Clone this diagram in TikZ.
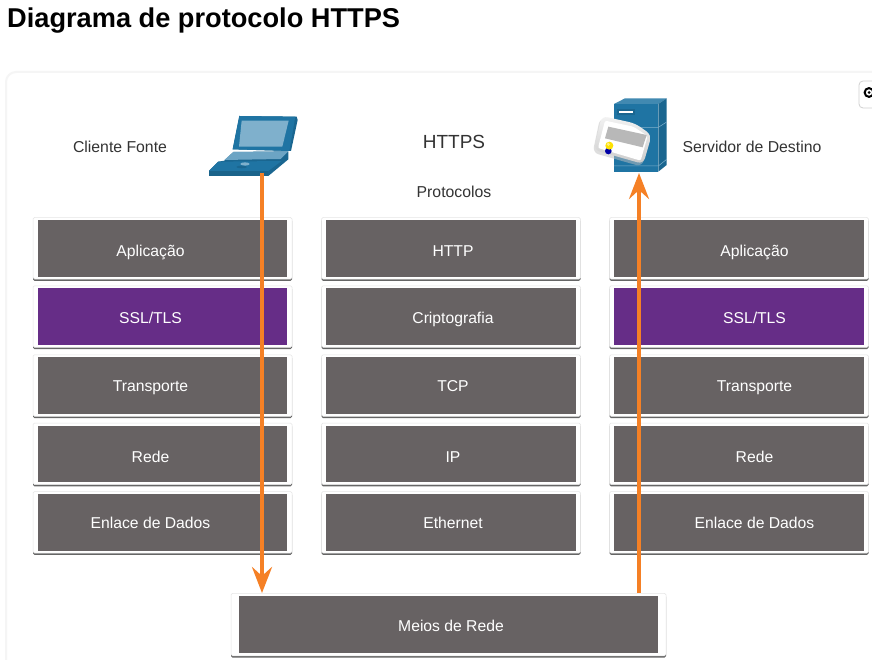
\documentclass[tikz,border=0pt]{standalone}
\usepackage{fontspec}
\setmainfont{Liberation Sans}
\usetikzlibrary{arrows.meta,shadows}
\definecolor{layergray}{HTML}{676263}
\definecolor{layerpurple}{HTML}{662D87}
\definecolor{floworange}{HTML}{F58025}
\definecolor{ciscoblue}{HTML}{1F74A3}
\definecolor{ciscodark}{HTML}{1A6690}
\definecolor{ciscolight}{HTML}{7FB0CC}
\definecolor{labeltext}{HTML}{333333}
\newcommand{\shifttext}[2]{\hspace*{#1}#2}
\tikzset{
  card/.style={fill=white,draw=black!10,line width=.5pt,rounded corners=1.5pt,inner sep=0pt,text=white,font=\fontsize{15.7}{18}\selectfont,text depth=0pt,
    drop shadow={shadow xshift=0pt,shadow yshift=-1.8pt,opacity=.7,fill=black!85}},
  layerbox/.style={card,minimum width=259pt,minimum height=61.5pt,
    path picture={\fill[#1,sharp corners] ([shift={(4.7pt,2.5pt)}]path picture bounding box.south west)
      rectangle ([shift={(-4.7pt,-2.5pt)}]path picture bounding box.north east);}},
  layerbox/.default=layergray,
  securebox/.style={layerbox=layerpurple},
  mediabox/.style={card,minimum width=435pt,minimum height=62.5pt,
    path picture={\fill[layergray,sharp corners] ([shift={(8.3pt,2.3pt)}]path picture bounding box.south west)
      rectangle ([shift={(-8.3pt,-2.7pt)}]path picture bounding box.north east);}},
  rowApp/.style={text height=16.5pt},
  rowSec/.style={text height=14pt},
  rowTra/.style={text height=12pt},
  rowNet/.style={text height=17pt},
  rowLnk/.style={text height=12pt},
  caption/.style={text=labeltext,inner sep=0pt,font=\fontsize{15.8}{18}\selectfont},
  flow/.style={draw=floworange,line width=4pt},
  flowtip/.style={-{Stealth[length=26pt,width=20pt,inset=9pt]}},
}
\begin{document}
\begin{tikzpicture}[x=1pt,y=-1pt]
  \clip[use as bounding box] (0,0) rectangle (872,660);
  \fill[white] (0,0) rectangle (872,660);
  \node[inner sep=0pt,anchor=west,font=\fontsize{27.2}{30}\selectfont\bfseries] (title) at (7,20.5) {Diagrama de protocolo HTTPS};
  % panel and button
  \draw[black!4,line width=2pt,rounded corners=10pt] (880,72) -- (6,72) -- (6,670);
  \draw[black!18,line width=.8pt,rounded corners=4pt] (880,81) -- (859,81) -- (859,108) -- (880,108);
  \draw[black,line width=2pt] (869,92.5) circle (4.4);
  \fill[black] (869,92.5) circle (1.5);
  % captions
  \node[caption] (client)   at (120,147) {Cliente Fonte};
  \node[caption,font=\fontsize{19}{24}\selectfont] (https) at (454,142) {HTTPS};
  \node[caption] (protocols) at (454,192) {Protocolos};
  \node[caption] (server)   at (752,147) {Servidor de Destino};
  % client column
  \node[layerbox,rowApp]  (cApp)  at (162.5,248.25) {\shifttext{-24pt}{Aplicação}};
  \node[securebox,rowSec] (cSec)  at (162.5,316.5)  {\shifttext{-24pt}{SSL/TLS}};
  \node[layerbox,rowTra]  (cTra)  at (162.5,385.5)  {\shifttext{-24pt}{Transporte}};
  \node[layerbox,rowNet]  (cNet)  at (162.5,453.75) {\shifttext{-24pt}{Rede}};
  \node[layerbox,rowLnk]  (cLnk)  at (162.5,522.25) {\shifttext{-24pt}{Enlace de Dados}};
  % protocol column
  \node[layerbox,rowApp]  (pApp)  at (451,248.25) {\shifttext{4pt}{HTTP}};
  \node[layerbox,rowSec]  (pSec)  at (451,316.5)  {\shifttext{4pt}{Criptografia}};
  \node[layerbox,rowTra]  (pTra)  at (451,385.5)  {\shifttext{4pt}{TCP}};
  \node[layerbox,rowNet]  (pNet)  at (451,453.75) {\shifttext{4pt}{IP}};
  \node[layerbox,rowLnk]  (pLnk)  at (451,522.25) {\shifttext{4pt}{Ethernet}};
  % server column
  \node[layerbox,rowApp]  (sApp)  at (739,248.25) {\shifttext{31pt}{Aplicação}};
  \node[securebox,rowSec] (sSec)  at (739,316.5)  {\shifttext{31pt}{SSL/TLS}};
  \node[layerbox,rowTra]  (sTra)  at (739,385.5)  {\shifttext{31pt}{Transporte}};
  \node[layerbox,rowNet]  (sNet)  at (739,453.75) {\shifttext{31pt}{Rede}};
  \node[layerbox,rowLnk]  (sLnk)  at (739,522.25) {\shifttext{31pt}{Enlace de Dados}};
  % media
  \node[mediabox,text height=14pt] (media) at (448.5,624.5) {\shifttext{5pt}{Meios de Rede}};
  % laptop
  \begin{scope}[shift={(190,90)},x=.3333pt,y=-.3333pt]
    \fill[ciscodark] (148,78) -- (320,80) -- (323,90) -- (303,183) -- (128,178) -- cycle;
    \fill[ciscoblue] (148,78) -- (316,80) -- (298,183) -- (128,178) -- cycle;
    \fill[ciscolight] (155,92) -- (296,92) -- (277,170) -- (147,170) -- cycle;
    \fill[ciscodark] (57,258) -- (235,258) -- (295,208) -- (295,184) -- (130,186) -- (103,212) -- (85,215) -- (57,243) -- cycle;
    \fill[ciscoblue] (57,243) -- (85,215) -- (275,213) -- (235,243) -- cycle;
    \fill[ciscoblue!85!black] (57,243) -- (235,243) -- (235,258) -- (57,258) -- cycle;
    \fill[ciscolight!80!ciscoblue] (130,186) -- (295,184) -- (272,207) -- (103,210) -- cycle;
    \fill[ciscolight] (165,222) ellipse (14 and 5);
    \fill[ciscodark] (155,231) ellipse (16 and 4);
  \end{scope}
  % server
  \begin{scope}[shift={(590,90)},x=.3333pt,y=-.3333pt]
    \fill[ciscoblue] (72,42) -- (205,42) -- (205,245) -- (72,245) -- cycle;
    \fill[ciscoblue!85!white] (72,42) -- (105,25) -- (230,25) -- (205,42) -- cycle;
    \fill[ciscodark] (205,42) -- (230,25) -- (230,225) -- (205,245) -- cycle;
    \draw[ciscolight,line width=.5pt] (72,112) -- (205,112) -- (230,96);
    \draw[ciscolight,line width=.5pt] (72,228) -- (205,228) -- (230,208);
    \fill[ciscodark] (82,58) rectangle (135,76);
    \fill[white] (88,63) rectangle (128,70);
    \fill[black!25,opacity=.5,rounded corners=6pt] (30,84) -- (133,104) -- (180,142) -- (156,230) -- (8,188) -- cycle;
    \shade[top color=black!5,bottom color=black!20,rounded corners=6pt] (35,78) -- (135,100) -- (185,135) -- (160,222) -- (12,180) -- cycle;
    \fill[white,rounded corners=2pt] (45,92) -- (130,110) -- (173,138) -- (152,212) -- (24,174) -- cycle;
    \fill[black!28] (55,110) -- (170,135) -- (158,172) -- (45,145) -- cycle;
    \fill[blue!65!black] (55,183) circle (10);
    \fill[yellow!85!orange] (58,167) circle (12);
    \fill[white,opacity=.5] (55,163) circle (5);
  \end{scope}
  % flows
  \coordinate (laptopFoot) at (262,173);
  \coordinate (serverFoot) at (639,173);
  \draw[flow,flowtip] (laptopFoot) -- (laptopFoot |- media.north);
  \draw[flow,flowtip] (serverFoot |- media.north) -- (serverFoot);
\end{tikzpicture}
\end{document}
